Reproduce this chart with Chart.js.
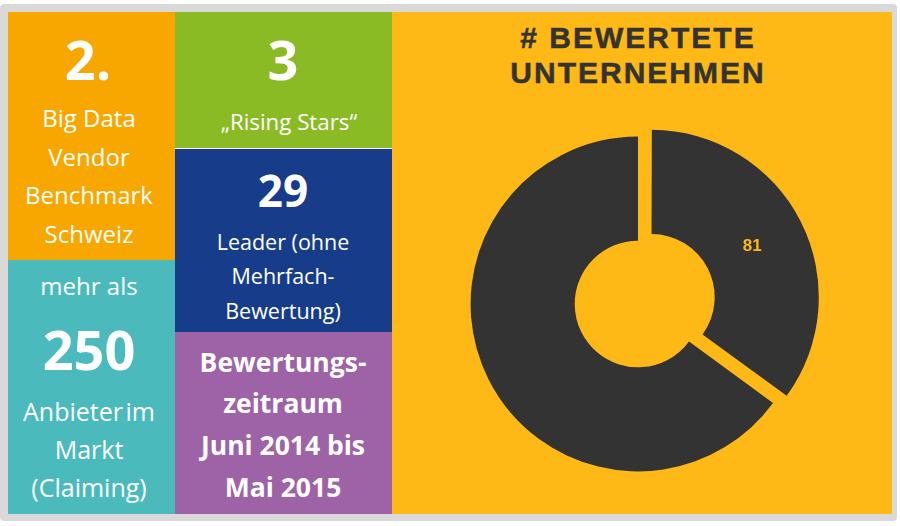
<!DOCTYPE html>
<html lang="de">
<head>
<meta charset="utf-8">
<title># Bewertete Unternehmen</title>
<script src="https://cdn.jsdelivr.net/npm/chart.js@4"></script>
<style>
    html, body { margin: 0; padding: 0; background: #fff; }
    #frame { position: relative; width: 900px; height: 526px; overflow: hidden; }
    #border { position: absolute; left: 0; top: 4px; width: 897px; height: 517px; background: #d9d9d9; border-radius: 4px; }
    .tile { position: absolute; }
    .txt {
        position: absolute; transform: translate(-50%, -50%); white-space: nowrap;
        font-family: "Open Sans", sans-serif; color: #fff; line-height: 1;
    }
    .big { font-weight: 700; }
    .bold { font-weight: 700; }
    .tight { word-spacing: -4px; }
    #title {
        position: absolute; left: 392px; width: 492px; text-align: center; top: 20px;
        font: bold 30px/35px "Liberation Sans", sans-serif; letter-spacing: 2px; color: #333;
        -webkit-text-stroke: 0.5px #333;
    }
    #donut { position: absolute; left: 438px; top: 104px; width: 400px; height: 400px; }
</style>
</head>
<body>
<div id="frame">
    <div id="border"></div>
    <div class="tile" style="left:8px;top:12px;width:167px;height:248px;background:#f8a600"></div>
    <div class="tile" style="left:8px;top:260px;width:167px;height:254px;background:#4bbabc"></div>
    <div class="tile" style="left:175px;top:12px;width:217px;height:136px;background:#8abb24"></div>
    <div class="tile" style="left:175px;top:148px;width:217px;height:1px;background:#fff"></div>
    <div class="tile" style="left:175px;top:149px;width:217px;height:183px;background:#163c8a"></div>
    <div class="tile" style="left:175px;top:332px;width:217px;height:182px;background:#9e63a6"></div>
    <div class="tile" style="left:392px;top:12px;width:500px;height:502px;background:#ffb916"></div>
    <div id="labels"></div>
    <div id="title"># BEWERTETE<br>UNTERNEHMEN</div>
    <canvas id="donut" width="400" height="400"></canvas>
</div>
<script>
const categories = ['Bewertet', 'Nicht bewertet'];
const values = [81, 150];
const visibleLabels = ['81', ''];

// Texte der Kacheln: [Text, x, y, Schriftgroesse, Klasse]
const tileTexts = [
    ['2.', 88, 59, 54, 'big'],
    ['Big Data', 89, 118, 24, ''],
    ['Vendor', 89, 157, 24, ''],
    ['Benchmark', 89, 195, 24, ''],
    ['Schweiz', 89, 234, 24, ''],
    ['3', 283, 59, 54, 'big'],
    ['„Rising Stars“', 289, 122, 22.3, ''],
    ['29', 283, 190, 44, 'big'],
    ['Leader (ohne', 283, 242, 21.5, ''],
    ['Mehrfach-', 283, 276, 21.5, ''],
    ['Bewertung)', 283, 311, 21.5, ''],
    ['mehr als', 89, 286, 24, ''],
    ['250', 89, 349, 54, 'big'],
    ['Anbieter im', 89, 411, 25, 'tight'],
    ['Markt', 89, 449, 25, ''],
    ['(Claiming)', 89, 487, 25, ''],
    ['Bewertungs-', 283, 362, 26.5, 'bold'],
    ['zeitraum', 283, 403, 26.5, 'bold'],
    ['Juni 2014 bis', 283, 445, 26.5, 'bold'],
    ['Mai 2015', 283, 487, 26.5, 'bold']
];

const labelBox = document.getElementById('labels');
tileTexts.forEach(([text, x, y, size, cls]) => {
    const el = document.createElement('div');
    el.className = 'txt ' + cls;
    el.textContent = text;
    el.style.left = x + 'px';
    el.style.top = y + 'px';
    el.style.fontSize = size + 'px';
    labelBox.appendChild(el);
});

// Chart.js vergroessert abgesetzte Segmente etwas, das hier wieder zuruecknehmen
const keepRadius = {
    id: 'keepRadius',
    afterDatasetsUpdate(chart) {
        const arc = chart.getDatasetMeta(0).data[0];
        const shift = 15 * (1 - Math.sin(Math.min(Math.PI, arc.circumference)));
        arc.outerRadius -= shift;
        arc.innerRadius -= shift;
    }
};

// Wert 81 im Segment
const sliceLabels = {
    id: 'sliceLabels',
    afterDatasetsDraw(chart) {
        const ctx = chart.ctx;
        const arcs = chart.getDatasetMeta(0).data;
        ctx.save();
        ctx.font = 'bold 17px "Liberation Sans", sans-serif';
        ctx.fillStyle = '#ffb916';
        ctx.textAlign = 'center';
        ctx.textBaseline = 'middle';
        arcs.forEach((arc, i) => {
            if (!visibleLabels[i]) return;
            const mid = (arc.startAngle + arc.endAngle) / 2;
            const r = 128;
            ctx.fillText(visibleLabels[i], arc.x + Math.cos(mid) * r, arc.y + Math.sin(mid) * r);
        });
        ctx.restore();
    }
};

new Chart(document.getElementById('donut'), {
    type: 'doughnut',
    data: {
        labels: categories,
        datasets: [{
            data: values,
            backgroundColor: ['#333333', '#333333'],
            borderWidth: 0,
            offset: [60, 0]
        }]
    },
    options: {
        responsive: false,
        animation: false,
        radius: 167.4,
        cutout: '37.8%',
        plugins: { legend: { display: false }, tooltip: { enabled: false }, title: { display: false } }
    },
    plugins: [keepRadius, sliceLabels]
});
</script>
</body>
</html>
